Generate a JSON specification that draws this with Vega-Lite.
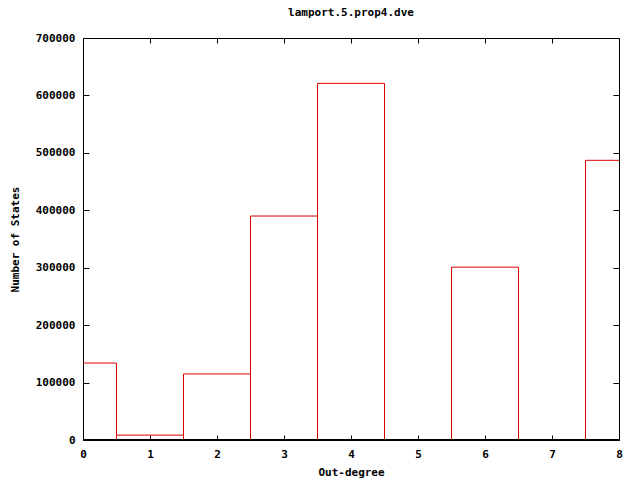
{
  "$schema": "https://vega.github.io/schema/vega-lite/v6.json",
  "width": 536,
  "height": 402,
  "autosize": {"type": "none"},
  "padding": {"left": 83, "top": 38, "right": 21, "bottom": 40},
  "background": "white",
  "title": {
    "text": "lamport.5.prop4.dve",
    "font": "DejaVu Sans Mono",
    "fontSize": 11,
    "fontWeight": "bold",
    "color": "black",
    "offset": 14
  },
  "config": {
    "view": {"stroke": "black", "strokeWidth": 1},
    "axis": {
      "labelFont": "DejaVu Sans Mono",
      "labelFontSize": 11,
      "labelFontWeight": "bold",
      "labelColor": "black",
      "titleFont": "DejaVu Sans Mono",
      "titleFontSize": 11,
      "titleFontWeight": "bold",
      "titleColor": "black",
      "grid": false,
      "domain": false,
      "tickColor": "black"
    }
  },
  "data": {
    "values": [
      {"degree": 0, "lo": -0.5, "hi": 0.5, "states": 134000},
      {"degree": 1, "lo": 0.5, "hi": 1.5, "states": 8500},
      {"degree": 2, "lo": 1.5, "hi": 2.5, "states": 115000},
      {"degree": 3, "lo": 2.5, "hi": 3.5, "states": 390000},
      {"degree": 4, "lo": 3.5, "hi": 4.5, "states": 621000},
      {"degree": 5, "lo": 4.5, "hi": 5.5, "states": 0},
      {"degree": 6, "lo": 5.5, "hi": 6.5, "states": 301000},
      {"degree": 7, "lo": 6.5, "hi": 7.5, "states": 0},
      {"degree": 8, "lo": 7.5, "hi": 8.5, "states": 487000}
    ]
  },
  "resolve": {"axis": {"x": "independent", "y": "independent"}},
  "layer": [
    {
      "transform": [{"filter": "datum.states > 0"}],
      "mark": {"type": "rect", "fill": null, "fillOpacity": 0, "stroke": "#dd0000", "strokeWidth": 1, "clip": true},
      "encoding": {
        "x": {
          "field": "lo", "type": "quantitative",
          "scale": {"domain": [0, 8], "nice": false, "zero": false},
          "axis": {"orient": "bottom", "title": "Out-degree", "values": [0,1,2,3,4,5,6,7,8], "format": "d", "tickSize": -5, "labelPadding": 13, "titlePadding": 7, "labelFlush": false}
        },
        "x2": {"field": "hi"},
        "y": {
          "field": "states", "type": "quantitative",
          "scale": {"domain": [0, 700000], "nice": false},
          "axis": {"orient": "left", "title": "Number of States", "values": [0,100000,200000,300000,400000,500000,600000,700000], "format": "d", "tickSize": -6, "labelPadding": 14, "titlePadding": 15, "labelBaseline": "middle"}
        },
        "y2": {"datum": 0}
      }
    },
    {
      "mark": {"type": "rect", "fillOpacity": 0, "strokeOpacity": 0},
      "encoding": {
        "x": {
          "field": "lo", "type": "quantitative",
          "axis": {"orient": "top", "title": null, "labels": false, "values": [0,1,2,3,4,5,6,7,8], "tickSize": -5}
        },
        "x2": {"field": "hi"},
        "y": {
          "field": "states", "type": "quantitative",
          "axis": {"orient": "right", "title": null, "labels": false, "values": [0,100000,200000,300000,400000,500000,600000,700000], "tickSize": -6}
        },
        "y2": {"datum": 0}
      }
    },
    {
      "mark": {"type": "rule", "color": "black", "strokeWidth": 1},
      "encoding": {"y": {"datum": 0, "type": "quantitative", "axis": null}}
    }
  ]
}
